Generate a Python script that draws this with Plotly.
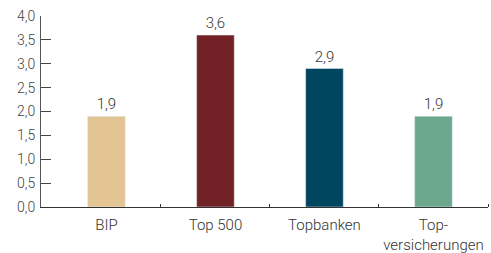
import plotly.graph_objects as go

categories = ["BIP", "Top 500", "Topbanken", "Top-<br>versicherungen"]
values = [1.9, 3.6, 2.9, 1.9]
colors = ["#E2C593", "#722226", "#00465F", "#6BA88E"]
y_ticks = [0, 0.5, 1, 1.5, 2, 2.5, 3, 3.5, 4]

x = list(range(len(categories)))
FONT = "Roboto"

fig = go.Figure(go.Bar(
    x=x, y=values, marker_color=colors, width=0.345,
    text=[f"{v:.1f}".replace(".", ",") for v in values],
    textposition="outside", cliponaxis=False,
    textfont=dict(size=15, color="#333333", family=FONT, weight=300),
))

fig.update_layout(
    width=491, height=253,
    margin=dict(l=41, r=3, t=16, b=46),
    plot_bgcolor="white", paper_bgcolor="white",
    separators=",.",
    showlegend=False,
    font=dict(family=FONT, color="#444444", size=14, weight=300),
    xaxis=dict(
        range=[-0.6, 3.5], tickmode="array", tickvals=x, ticktext=categories,
        showline=True, linecolor="#333333", linewidth=1,
        ticks="", showgrid=False, zeroline=False, automargin=False,
        ticklabelstandoff=4,
        tickfont=dict(size=15, color="#333333", family=FONT, weight=300),
        minor=dict(tickmode="array", tickvals=[0.5, 1.5, 2.5, 3.5], ticks="inside",
                   ticklen=3, tickcolor="#333333", showgrid=False),
    ),
    yaxis=dict(
        range=[0, 4], tickvals=y_ticks, tickformat=".1f",
        showline=True, linecolor="#555555", linewidth=1,
        ticks="inside", ticklen=10, tickcolor="#444444",
        showgrid=False, zeroline=False, automargin=False,
        ticklabelstandoff=2,
        tickfont=dict(size=14, color="#444444", family=FONT, weight=300),
    ),
)

fig.write_html("out.html", config={"displayModeBar": False},
               post_script="document.body.style.margin='0';")
